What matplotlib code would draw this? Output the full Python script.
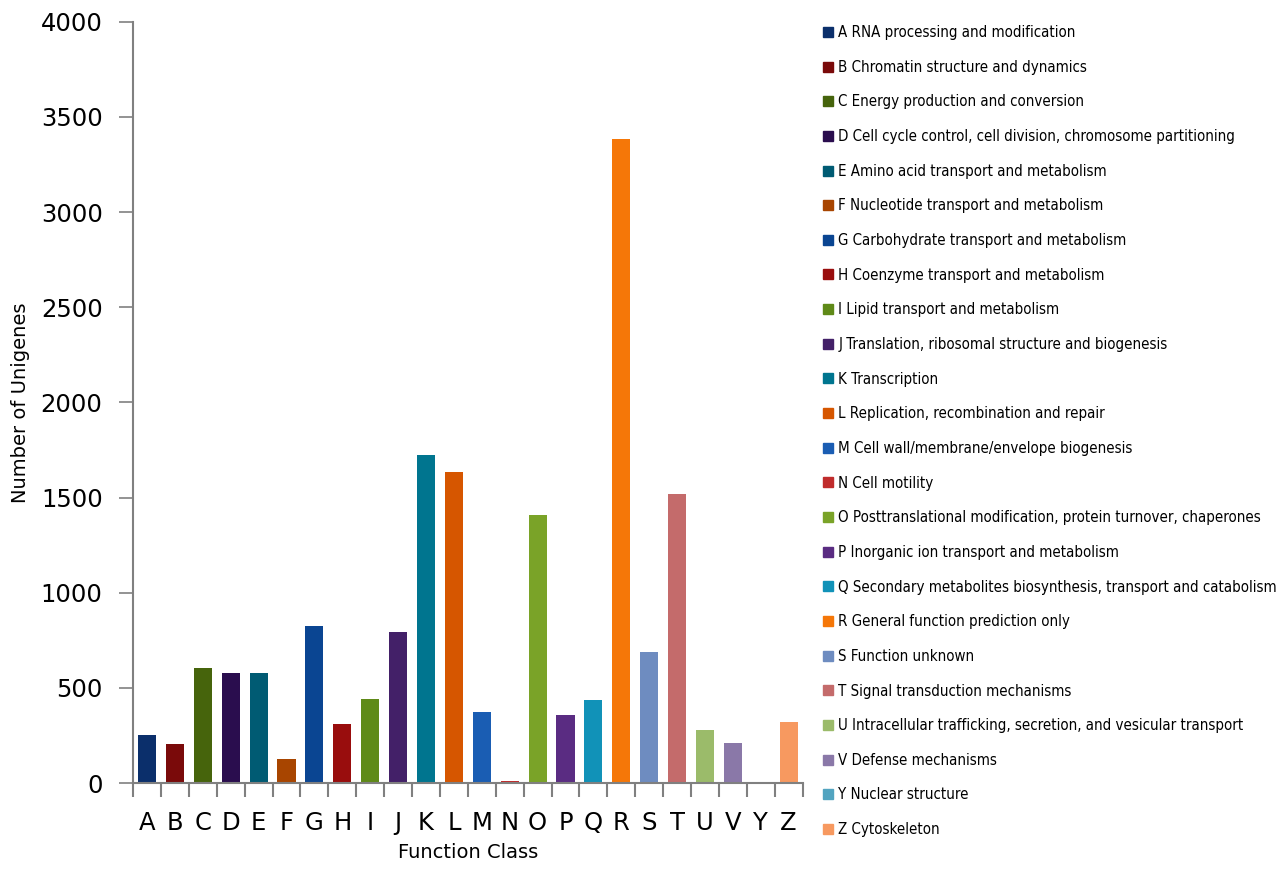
import matplotlib
matplotlib.use("Agg")
import matplotlib.pyplot as plt
from matplotlib.lines import Line2D
from matplotlib.font_manager import FontProperties
import numpy as np

# COG function classes and unigene counts
classes = ["A", "B", "C", "D", "E", "F", "G", "H", "I", "J", "K", "L",
           "M", "N", "O", "P", "Q", "R", "S", "T", "U", "V", "Y", "Z"]
descriptions = [
    "RNA processing and modification",
    "Chromatin structure and dynamics",
    "Energy production and conversion",
    "Cell cycle control, cell division, chromosome partitioning",
    "Amino acid transport and metabolism",
    "Nucleotide transport and metabolism",
    "Carbohydrate transport and metabolism",
    "Coenzyme transport and metabolism",
    "Lipid transport and metabolism",
    "Translation, ribosomal structure and biogenesis",
    "Transcription",
    "Replication, recombination and repair",
    "Cell wall/membrane/envelope biogenesis",
    "Cell motility",
    "Posttranslational modification, protein turnover, chaperones",
    "Inorganic ion transport and metabolism",
    "Secondary metabolites biosynthesis, transport and catabolism",
    "General function prediction only",
    "Function unknown",
    "Signal transduction mechanisms",
    "Intracellular trafficking, secretion, and vesicular transport",
    "Defense mechanisms",
    "Nuclear structure",
    "Cytoskeleton",
]
counts = [252, 205, 603, 580, 580, 128, 824, 312, 442, 794, 1725, 1635,
          372, 12, 1408, 357, 435, 3383, 689, 1519, 280, 212, 0, 319]
colors = ["#0b2f6b", "#7a0a0a", "#46640c", "#2a0d4e", "#005b73", "#a84500",
          "#0a4592", "#990d0d", "#5f8a18", "#432068", "#00758f", "#d65600",
          "#1a5db3", "#c02c2c", "#7aa328", "#5a2c82", "#1192b8", "#f57708",
          "#6e8cc0", "#c46b6b", "#9bbb6a", "#8a78a8", "#52a4c0", "#f79960"]

fig = plt.figure(figsize=(12.8, 8.71), dpi=100)
ax = fig.add_axes([0.104, 0.101, 0.523, 0.874])

x = np.arange(len(classes))
ax.bar(x, counts, width=0.65, color=colors, linewidth=0)

ax.set_xlim(-0.5, len(classes) - 0.5)
ax.set_ylim(0, 4000)
ax.set_yticks(np.arange(0, 4001, 500))

# category labels centred, tick marks between categories
ax.set_xticks(x)
ax.set_xticklabels(classes, fontsize=17.5)
ax.set_xticks(np.arange(-0.5, len(classes), 1), minor=True)
ax.tick_params(axis="x", which="major", length=0, pad=20)
ax.tick_params(axis="x", which="minor", length=10, width=1.5, color="#808080", direction="out")
ax.tick_params(axis="y", length=10, width=1.2, color="#808080", labelsize=17.5, pad=12)

for side in ["top", "right"]:
    ax.spines[side].set_visible(False)
for side in ["left", "bottom"]:
    ax.spines[side].set_color("#808080")
    ax.spines[side].set_linewidth(1.5)

ax.set_xlabel("Function Class", fontsize=14, labelpad=6)
ax.set_ylabel("Number of Unigenes", fontsize=14, labelpad=8)

handles = [Line2D([], [], marker="s", linestyle="none", markersize=7,
                  markerfacecolor=c, markeredgecolor=c) for c in colors]
labels = [f"{c} {d}" for c, d in zip(classes, descriptions)]
legend_font = FontProperties(family="DejaVu Sans", stretch="condensed", size=10.8)
fig.legend(handles, labels, loc="upper left", bbox_to_anchor=(0.6385, 0.978),
           frameon=False, prop=legend_font, handlelength=0.6, handletextpad=0.4,
           labelspacing=1.31, borderaxespad=0)

fig.savefig("out.png", dpi=100)
